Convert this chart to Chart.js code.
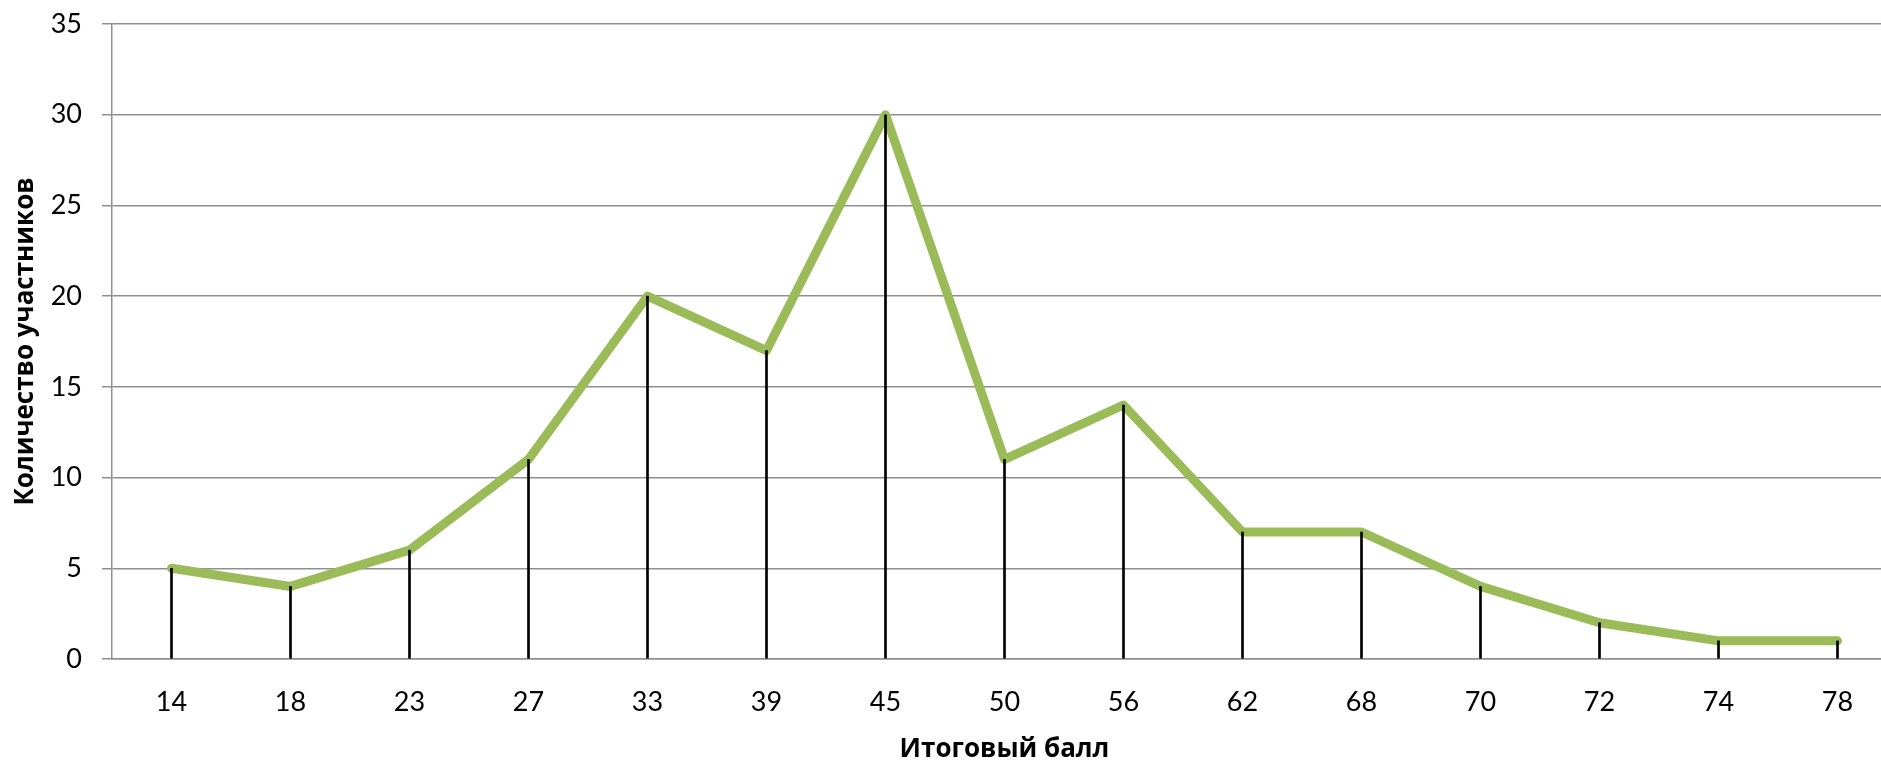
<!DOCTYPE html>
<html>
<head>
<meta charset="utf-8">
<script src="https://cdn.jsdelivr.net/npm/chart.js@4"></script>
<style>
  html, body { margin: 0; padding: 0; background: #fff; overflow: hidden; }
  #wrap { width: 1900px; height: 762px; }
</style>
</head>
<body>
<div id="wrap"><canvas id="scoreChart" width="1900" height="762"></canvas></div>
<script>
// данные: итоговый балл -> количество участников
const scores = ['14', '18', '23', '27', '33', '39', '45', '50', '56', '62', '68', '70', '72', '74', '78'];
const participants = [5, 4, 6, 11, 20, 17, 30, 11, 14, 7, 7, 4, 2, 1, 1];
const yTicks = [0, 5, 10, 15, 20, 25, 30, 35];

const tickFont = { family: 'Lato, "Open Sans", sans-serif', size: 27 };
const titleFont = { family: '"Open Sans", "Noto Sans", sans-serif', size: 26, weight: 'bold' };

const ctx = document.getElementById('scoreChart').getContext('2d');
new Chart(ctx, {
    type: 'line',
    data: {
        labels: scores,
        datasets: [{
            // зелёная линия
            type: 'line',
            data: participants,
            borderColor: '#9BBB59',
            borderWidth: 9,
            borderCapStyle: 'round',
            borderJoinStyle: 'round',
            pointRadius: 0,
            fill: false,
            tension: 0,
            order: 1
        }, {
            // линии проекции к оси (поверх линии)
            type: 'bar',
            data: participants,
            backgroundColor: '#000',
            barThickness: 2,
            order: 0
        }]
    },
    options: {
        responsive: false,
        animation: false,
        layout: { padding: { left: 0, top: 24, right: 3, bottom: 0 } },
        plugins: {
            legend: { display: false },
            tooltip: { enabled: false }
        },
        scales: {
            x: {
                offset: true,
                grid: { display: false, drawTicks: false },
                border: { display: true, color: '#8f8f8f', width: 1.5 },
                ticks: { color: '#000', font: tickFont, padding: 27, maxRotation: 0 },
                title: { display: true, text: 'Итоговый балл', color: '#000', font: titleFont, padding: { top: 0, bottom: -3 } },
                afterFit: function (scale) { scale.height = 103; }
            },
            y: {
                min: 0,
                max: 35,
                afterBuildTicks: function (scale) { scale.ticks = yTicks.map(v => ({ value: v })); },
                grid: { color: '#8f8f8f', lineWidth: 1.5, tickLength: 10 },
                border: { display: true, color: '#8f8f8f', width: 1.5 },
                ticks: { color: '#000', font: tickFont, padding: 20 },
                title: { display: true, text: 'Количество участников', color: '#000', font: titleFont, padding: { top: 10, bottom: 0 } },
                afterFit: function (scale) {
                    scale.width = 112;
                    scale.paddingTop = 0;
                    scale.paddingBottom = 0;
                }
            }
        }
    }
});
</script>
</body>
</html>
